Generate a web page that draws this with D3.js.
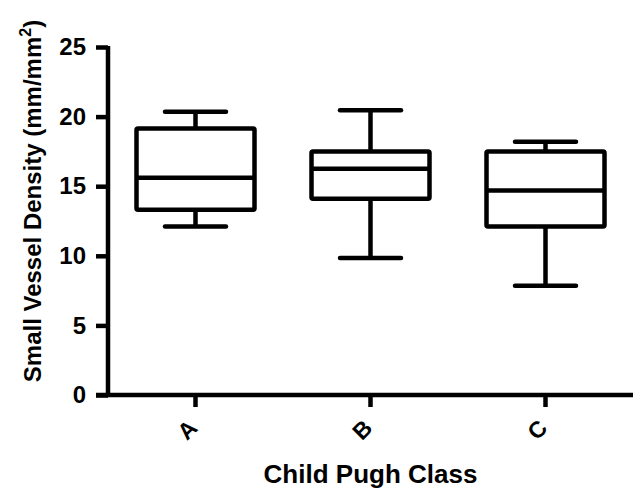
<!DOCTYPE html>
<html>
<head>
<meta charset="utf-8">
<script src="https://cdn.jsdelivr.net/npm/d3@7"></script>
<style>
  body { margin: 0; background: #fff; }
  text { font-family: "Liberation Sans", Arial, sans-serif; font-weight: bold; fill: #000; }
</style>
</head>
<body>
<script>
// box plot values
var classes = ["A", "B", "C"];
var mins    = [12.1, 9.85, 7.85];
var q1s     = [13.3, 14.1, 12.1];
var medians = [15.6, 16.25, 14.7];
var q3s     = [19.15, 17.5, 17.5];
var maxs    = [20.35, 20.45, 18.2];
var yTicks  = [0, 5, 10, 15, 20, 25];

var width = 635, height = 491;
var margin = {top: 47, right: 2, bottom: 96, left: 108};

var svg = d3.select("body").append("svg")
    .attr("width", width)
    .attr("height", height);

var x = d3.scaleBand()
    .domain(classes)
    .range([margin.left, width - margin.right]);

var y = d3.scaleLinear()
    .domain([0, 25])
    .range([height - margin.bottom, margin.top]);

var boxes = classes.map(function(c, i) {
  return {cls: c, min: mins[i], q1: q1s[i], med: medians[i], q3: q3s[i], max: maxs[i]};
});

var boxW = 118, capW = 61, sw = 4.5;

var g = svg.append("g");

var box = g.selectAll(".box")
    .data(boxes)
    .enter()
    .append("g")
    .attr("class", "box")
    .attr("transform", function(d) { return "translate(" + (x(d.cls) + x.bandwidth() / 2) + ",0)"; });

// whiskers
box.append("line")
    .attr("x1", 0).attr("x2", 0)
    .attr("y1", function(d) { return y(d.max); })
    .attr("y2", function(d) { return y(d.q3); })
    .style("stroke", "#000").style("stroke-width", sw);
box.append("line")
    .attr("x1", 0).attr("x2", 0)
    .attr("y1", function(d) { return y(d.q1); })
    .attr("y2", function(d) { return y(d.min); })
    .style("stroke", "#000").style("stroke-width", sw);

// caps
box.append("line")
    .attr("x1", -capW / 2).attr("x2", capW / 2)
    .attr("y1", function(d) { return y(d.max); })
    .attr("y2", function(d) { return y(d.max); })
    .style("stroke", "#000").style("stroke-width", sw).style("stroke-linecap", "round");
box.append("line")
    .attr("x1", -capW / 2).attr("x2", capW / 2)
    .attr("y1", function(d) { return y(d.min); })
    .attr("y2", function(d) { return y(d.min); })
    .style("stroke", "#000").style("stroke-width", sw).style("stroke-linecap", "round");

// box
box.append("rect")
    .attr("x", -boxW / 2)
    .attr("width", boxW)
    .attr("y", function(d) { return y(d.q3); })
    .attr("height", function(d) { return y(d.q1) - y(d.q3); })
    .style("fill", "none")
    .style("stroke", "#000").style("stroke-width", sw)
    .attr("rx", 1.5);

// median
box.append("line")
    .attr("x1", -boxW / 2).attr("x2", boxW / 2)
    .attr("y1", function(d) { return y(d.med); })
    .attr("y2", function(d) { return y(d.med); })
    .style("stroke", "#000").style("stroke-width", sw);

// y axis
var yAxis = svg.append("g")
    .attr("transform", "translate(" + margin.left + ",0)")
    .call(d3.axisLeft(y).tickValues(yTicks).tickSize(12).tickPadding(10).tickSizeOuter(0));
yAxis.select(".domain").style("stroke-width", sw).attr("d", "M0," + (y(25) - 1) + "V" + (y(0) + 2));
yAxis.selectAll(".tick line").style("stroke-width", sw);
yAxis.selectAll(".tick text")
    .style("font-size", "24px")
    .style("font-family", "'Liberation Sans', Arial, sans-serif")
    .style("font-weight", "bold");

// x axis
var xAxis = svg.append("g")
    .attr("transform", "translate(0," + (height - margin.bottom) + ")")
    .call(d3.axisBottom(x).tickSize(12).tickSizeOuter(0));
xAxis.select(".domain").style("stroke-width", sw).attr("d", "M" + (margin.left - 12) + ",0H" + (width - margin.right));
xAxis.selectAll(".tick line").style("stroke-width", sw);
xAxis.selectAll(".tick text")
    .style("font-size", "23px")
    .style("font-family", "'Liberation Sans', Arial, sans-serif")
    .style("font-weight", "bold")
    .attr("text-anchor", "middle")
    .attr("dy", null)
    .attr("y", 0)
    .attr("transform", "translate(-7,36) rotate(-45)")
    .attr("dominant-baseline", "middle");

// axis titles
svg.append("text")
    .attr("x", x("B") + x.bandwidth() / 2)
    .attr("y", 483)
    .attr("text-anchor", "middle")
    .style("font-size", "26px")
    .text("Child Pugh Class");

svg.append("text")
    .attr("transform", "translate(41," + 201 + ") rotate(-90)")
    .attr("text-anchor", "middle")
    .style("font-size", "24px")
    .html("Small Vessel Density (mm/mm<tspan dy='-10' font-size='16px'>2</tspan><tspan dy='10'>)</tspan>");
</script>
</body>
</html>
